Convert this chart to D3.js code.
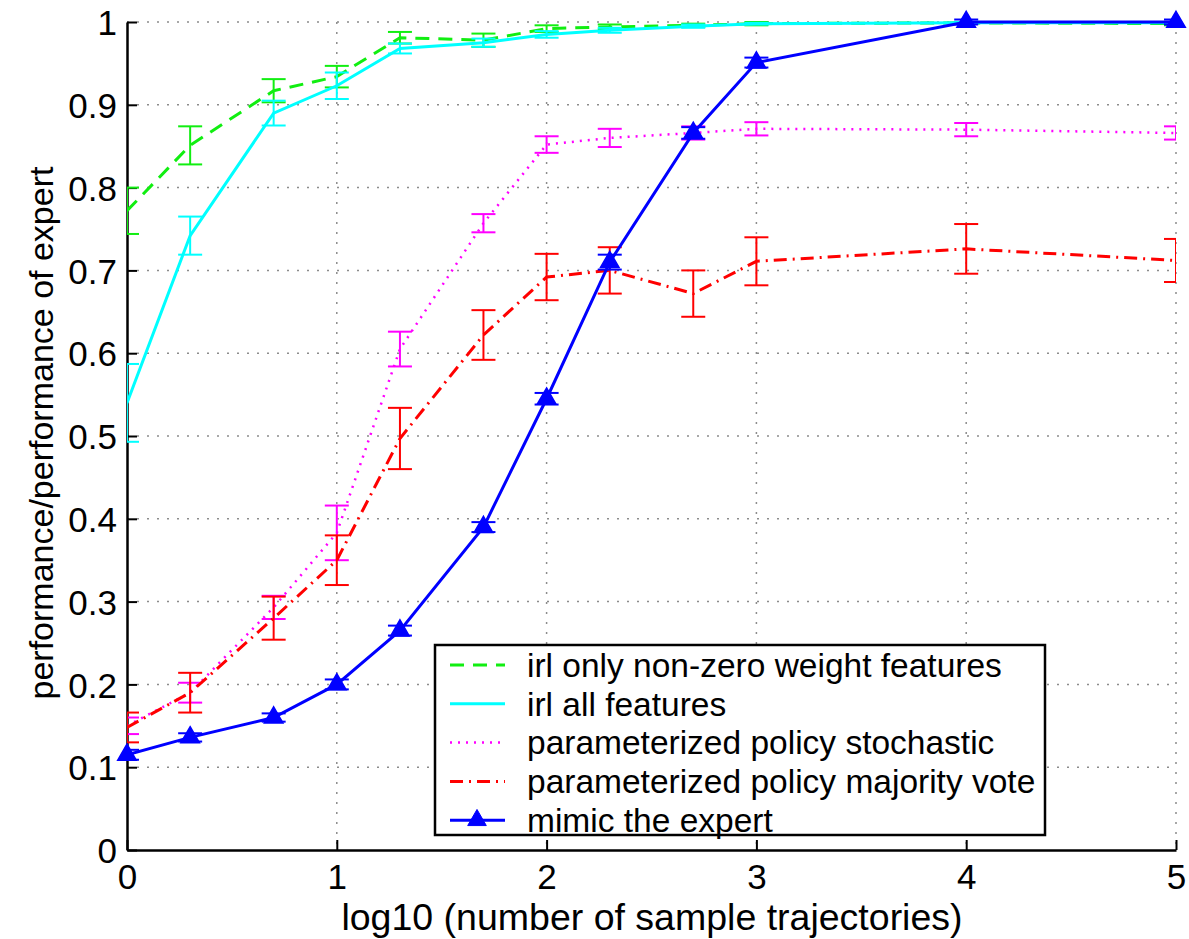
<!DOCTYPE html>
<html>
<head>
<meta charset="utf-8">
<script src="https://cdn.jsdelivr.net/npm/d3@7"></script>
<style>
    body { margin: 0; background: #fff; }
    svg { display: block; font-family: "Liberation Sans", Arial, sans-serif; }
</style>
</head>
<body>
<svg id="chart"></svg>
<script>
// log10 of number of sample trajectories
var xVals = [0, 0.301, 0.699, 1, 1.301, 1.699, 2, 2.301, 2.699, 3, 4, 5];

var irlNonZero = [0.772, 0.851, 0.917, 0.934, 0.981, 0.978, 0.992, 0.994, 0.996, 0.998, 0.999, 0.998];
var irlNonZeroErr = [0.028, 0.023, 0.014, 0.013, 0.007, 0.008, 0.004, 0.003, 0.002, 0.002, 0.001, 0.002];
var irlAll = [0.54, 0.742, 0.89, 0.923, 0.968, 0.975, 0.985, 0.99, 0.995, 0.998, 0.999, 0.999];
var irlAllErr = [0.047, 0.023, 0.015, 0.016, 0.006, 0.005, 0.004, 0.003, 0.002, 0.001, 0.001, 0.001];
var stochastic = [0.15, 0.19, 0.293, 0.383, 0.605, 0.757, 0.852, 0.86, 0.866, 0.871, 0.87, 0.866];
var stochasticErr = [0.01, 0.012, 0.014, 0.033, 0.021, 0.011, 0.01, 0.011, 0.008, 0.008, 0.008, 0.008];
var majority = [0.148, 0.19, 0.28, 0.35, 0.497, 0.622, 0.692, 0.70, 0.672, 0.711, 0.726, 0.712];
var majorityErr = [0.018, 0.024, 0.026, 0.03, 0.037, 0.03, 0.028, 0.028, 0.028, 0.029, 0.03, 0.026];
var mimic = [0.115, 0.136, 0.16, 0.2, 0.265, 0.39, 0.545, 0.71, 0.866, 0.951, 1.0, 1.0];
var mimicErr = [0.006, 0.005, 0.005, 0.006, 0.006, 0.006, 0.007, 0.009, 0.007, 0.006, 0.003, 0.003];

var xTicks = [0, 1, 2, 3, 4, 5];
var yTicks = [0, 0.1, 0.2, 0.3, 0.4, 0.5, 0.6, 0.7, 0.8, 0.9, 1];
var yTickLabels = ["0", "0.1", "0.2", "0.3", "0.4", "0.5", "0.6", "0.7", "0.8", "0.9", "1"];

var series = [
    { name: "irl only non-zero weight features", values: irlNonZero, err: irlNonZeroErr, color: "#11ee11", dash: "14,9", width: 3 },
    { name: "irl all features", values: irlAll, err: irlAllErr, color: "#00ffff", dash: null, width: 3 },
    { name: "parameterized policy stochastic", values: stochastic, err: stochasticErr, color: "#ff00ff", dash: "2,6", width: 2.5 },
    { name: "parameterized policy majority vote", values: majority, err: majorityErr, color: "#ff0000", dash: "13,6,2,6", width: 3 },
    { name: "mimic the expert", values: mimic, err: mimicErr, color: "#0000ff", dash: null, width: 3, marker: true }
];

var W = 1189, H = 939;
var margin = { top: 22, right: 13, bottom: 89, left: 127 };
var width = W - margin.left - margin.right,
    height = H - margin.top - margin.bottom;

var svg = d3.select("#chart").attr("width", W).attr("height", H);
var g = svg.append("g").attr("transform", "translate(" + margin.left + "," + margin.top + ")");

var x = d3.scaleLinear().domain([0, 5]).range([0, width]),
    y = d3.scaleLinear().domain([0, 1]).range([height, 0]);

g.append("defs").append("clipPath")
    .attr("id", "clip")
    .append("rect")
    .attr("x", 0)
    .attr("y", -4)
    .attr("width", width)
    .attr("height", height + 4);

// dotted grid
g.append("g").selectAll("line").data(yTicks.slice(1)).enter().append("line")
    .attr("x1", 0).attr("x2", width)
    .attr("y1", function (d) { return y(d); })
    .attr("y2", function (d) { return y(d); })
    .attr("stroke", "#8c8c8c").attr("stroke-width", 1.5)
    .attr("stroke-dasharray", "2,8");
g.append("g").selectAll("line").data(xTicks.slice(1)).enter().append("line")
    .attr("x1", function (d) { return x(d); })
    .attr("x2", function (d) { return x(d); })
    .attr("y1", 0).attr("y2", height)
    .attr("stroke", "#8c8c8c").attr("stroke-width", 1.5)
    .attr("stroke-dasharray", "2,8");

// axes
var xAxis = d3.axisBottom(x).tickValues(xTicks).tickFormat(d3.format("d")).tickSizeInner(-10).tickSizeOuter(0).tickPadding(14);
var yAxis = d3.axisLeft(y).tickValues(yTicks).tickFormat(function (d, i) { return yTickLabels[i]; }).tickSizeInner(-10).tickSizeOuter(0).tickPadding(10);

var gx = g.append("g").attr("transform", "translate(0," + height + ")").call(xAxis);
var gy = g.append("g").call(yAxis);
[gx, gy].forEach(function (a) {
    a.select(".domain").attr("stroke", "#000").attr("stroke-width", 2.5);
    a.selectAll(".tick line").attr("stroke", "#000").attr("stroke-width", 2);
    a.selectAll(".tick text").attr("font-size", 35).attr("fill", "#000").attr("font-family", "Liberation Sans, Arial, sans-serif");
});
gx.selectAll(".tick text").attr("dy", "0.71em");
gy.selectAll(".tick text").attr("dy", "0.36em");

// series
var line = d3.line()
    .x(function (d, i) { return x(xVals[i]); })
    .y(function (d) { return y(d); });

var plot = g.append("g").attr("clip-path", "url(#clip)");
var capW = 12;

series.forEach(function (s) {
    var eb = plot.append("g").attr("stroke", s.color).attr("stroke-width", 2).attr("fill", "none");
    s.values.forEach(function (v, i) {
        var cx = x(xVals[i]), lo = y(v - s.err[i]), hi = y(v + s.err[i]);
        eb.append("line").attr("x1", cx).attr("x2", cx).attr("y1", lo).attr("y2", hi);
        eb.append("line").attr("x1", cx - capW).attr("x2", cx + capW).attr("y1", lo).attr("y2", lo);
        eb.append("line").attr("x1", cx - capW).attr("x2", cx + capW).attr("y1", hi).attr("y2", hi);
    });
    plot.append("path")
        .datum(s.values)
        .attr("fill", "none")
        .attr("stroke", s.color)
        .attr("stroke-width", s.width)
        .attr("stroke-dasharray", s.dash)
        .attr("d", line);
});

// markers for mimic the expert
var tri = d3.symbol().type(d3.symbolTriangle).size(150);
g.append("g").selectAll("path").data(mimic).enter().append("path")
    .attr("d", tri)
    .attr("transform", function (d, i) { return "translate(" + x(xVals[i]) + "," + y(d) + ")"; })
    .attr("fill", "#0000ff")
    .attr("stroke", "#0000ff")
    .attr("stroke-width", 1.5);

// axis labels
svg.append("text")
    .attr("x", 652)
    .attr("y", 930)
    .attr("text-anchor", "middle")
    .attr("font-size", 37.5)
    .text("log10 (number of sample trajectories)");

svg.append("text")
    .attr("transform", "translate(53,433) rotate(-90)")
    .attr("text-anchor", "middle")
    .attr("font-size", 34)
    .text("performance/performance of expert");

// legend
var legend = svg.append("g").attr("transform", "translate(435,645)");
legend.append("rect")
    .attr("width", 610).attr("height", 190)
    .attr("fill", "#fff").attr("stroke", "#000").attr("stroke-width", 2.5);

var rowH = 38.8;
series.forEach(function (s, i) {
    var ry = 20 + i * rowH;
    legend.append("line")
        .attr("x1", 15).attr("x2", 70)
        .attr("y1", ry).attr("y2", ry)
        .attr("stroke", s.color)
        .attr("stroke-width", s.width)
        .attr("stroke-dasharray", s.dash);
    if (s.marker) {
        legend.append("path")
            .attr("d", tri)
            .attr("transform", "translate(42," + ry + ")")
            .attr("fill", s.color).attr("stroke", s.color);
    }
    legend.append("text")
        .attr("x", 92)
        .attr("y", ry)
        .attr("dy", "0.35em")
        .attr("font-size", 33.5)
        .text(s.name);
});
</script>
</body>
</html>
